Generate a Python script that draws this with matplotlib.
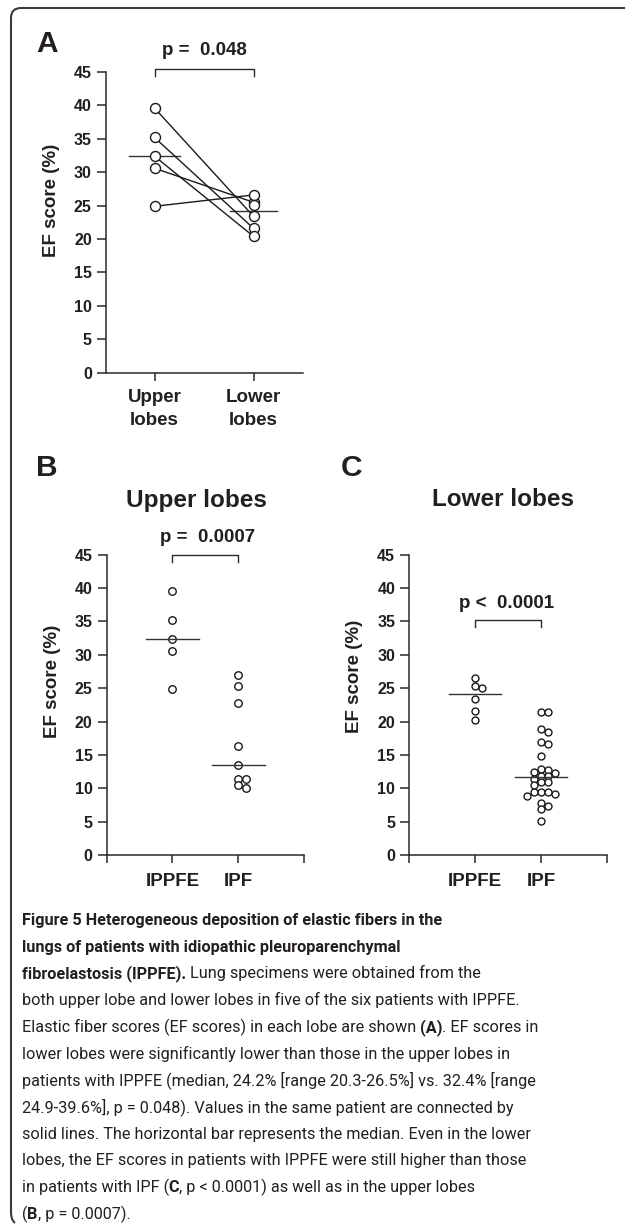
import matplotlib
matplotlib.use("Agg")
import matplotlib.pyplot as plt
from matplotlib import font_manager
from matplotlib.path import Path
from matplotlib.patches import PathPatch
import numpy as np

W, H = 625, 1229
INK = '#231f20'
plt.rcParams['font.family'] = ['Liberation Sans', 'DejaVu Sans']

# ---- data ----
# A: same five patients, upper vs lower lobe (plus one lower-lobe-only value)
upper_a = [39.6, 35.2, 32.4, 30.6, 24.9]
lower_a = [23.4, 21.6, 20.4, 25.5, 26.6]
lower_a_extra = [25.1]
cats_a = ["Upper\nlobes", "Lower\nlobes"]

# B: upper lobes, C: lower lobes
groups = ["IPPFE", "IPF"]
upper_ippfe = [39.6, 35.2, 32.4, 30.6, 24.9]
upper_ipf = [27.0, 25.3, 22.8, 16.4, 13.5, 11.4, 11.4, 10.5, 10.1]
lower_ippfe = [26.6, 25.4, 25.0, 23.4, 21.6, 20.3]
lower_ipf = [21.5, 21.5, 18.9, 18.4, 17.0, 16.7, 14.8, 12.9, 12.7, 12.5, 12.3,
             11.9, 11.9, 11.4, 10.9, 10.9, 10.5, 9.4, 9.4, 9.4, 9.1, 8.9,
             7.8, 7.4, 6.9, 5.2]
yticks = list(range(0, 46, 5))

p_a, p_b, p_c = "p =  0.048", "p =  0.0007", "p <  0.0001"

caption = [
    [("Figure 5 Heterogeneous deposition of elastic fibers in the", True)],
    [("lungs of patients with idiopathic pleuroparenchymal", True)],
    [("fibroelastosis (IPPFE).", True), (" Lung specimens were obtained from the", False)],
    [("both upper lobe and lower lobes in five of the six patients with IPPFE.", False)],
    [("Elastic fiber scores (EF scores) in each lobe are shown ", False), ("(A)", True),
     (". EF scores in", False)],
    [("lower lobes were significantly lower than those in the upper lobes in", False)],
    [("patients with IPPFE (median, 24.2% [range 20.3-26.5%] vs. 32.4% [range", False)],
    [("24.9-39.6%], p = 0.048). Values in the same patient are connected by", False)],
    [("solid lines. The horizontal bar represents the median. Even in the lower", False)],
    [("lobes, the EF scores in patients with IPPFE were still higher than those", False)],
    [("in patients with IPF (", False), ("C", True), (", p < 0.0001) as well as in the upper lobes", False)],
    [("(", False), ("B", True), (", p = 0.0007).", False)],
]

fig = plt.figure(figsize=(W / 100, H / 100), dpi=100)
fig.patch.set_facecolor('white')


def box(x0, y0, x1, y1):
    # pixel box (top-left origin) -> figure fraction rect
    return [x0 / W, 1 - y1 / H, (x1 - x0) / W, (y1 - y0) / H]


def style(ax, xlim, xticks, xlabels, xpad):
    ax.set_xlim(*xlim)
    ax.set_ylim(0, 45)
    for s in ['top', 'right']:
        ax.spines[s].set_visible(False)
    for s in ['left', 'bottom']:
        ax.spines[s].set_linewidth(1.1)
        ax.spines[s].set_color('#2a2a2a')
    ax.set_yticks(yticks)
    ax.set_yticklabels([str(t) for t in yticks], fontsize=11.5, fontweight='bold', color=INK)
    ax.set_xticks(xticks)
    ax.set_xticklabels(xlabels, fontsize=13.5, fontweight='bold', color=INK, linespacing=1.45)
    ax.tick_params(axis='y', length=6.7, width=1.1, pad=3.5, color='#2a2a2a')
    ax.tick_params(axis='x', length=5.5, width=1.1, pad=xpad, color='#2a2a2a')
    ax.set_ylabel("EF score (%)", fontsize=13.5, fontweight='bold', color=INK)


def swarm_x(ax, center, vals, ms, tight=0.75):
    d = ms * fig.dpi / 72
    placed, xs = [], []
    cands = [0]
    for i in range(1, 10):
        cands += [i, -i]
    for v in vals:
        cx, py = ax.transData.transform((center, v))
        for c in cands:
            qx = cx + c * d
            if all(np.hypot(qx - a, py - b) >= tight * d for a, b in placed):
                break
        placed.append((qx, py))
        xs.append(ax.transData.inverted().transform((qx, py))[0])
    return xs


def bracket(ax, x0, x1, ytop, ybot):
    ax.plot([x0, x0, x1, x1], [ybot, ytop, ytop, ybot], color='#2a2a2a', lw=1.0,
            clip_on=False)


circ = dict(marker='o', mfc='white', mec='#1a1a1a', ls='none', clip_on=False, zorder=4)

# ---- panel A ----
axA = fig.add_axes(box(106, 72, 303, 372.7))
style(axA, (-0.49, 1.5), [0, 1], cats_a, 6.5)
axA.yaxis.set_label_coords(-0.233, 0.574)
for u, l in zip(upper_a, lower_a):
    axA.plot([0, 1], [u, l], color='#1a1a1a', lw=1.0, zorder=3, clip_on=False)
axA.plot([0] * len(upper_a), upper_a, ms=7.2, mew=1.0, **circ)
all_lower = lower_a + lower_a_extra
axA.plot([1] * len(all_lower), all_lower, ms=7.2, mew=1.0, **circ)
for x, vals, hw in [(0, upper_a, 0.26), (1, all_lower, 0.24)]:
    m = np.median(vals)
    axA.plot([x - hw, x + hw], [m, m], color='#333333', lw=1.0, zorder=2)
bracket(axA, 0, 1, 45.5, 44.4)
axA.text(0.5, 47.5, p_a, ha='center', va='baseline', fontsize=13.5, fontweight='bold',
         color=INK)

# ---- panels B and C ----
for pos, ippfe, ipf, ms, ptxt, pxy, br, lab in [
        (box(106.7, 554.6, 304, 855.3), upper_ippfe, upper_ipf, 5.4, p_b, (0.54, 46.9),
         (45.0, 43.9), (-0.232, 0.58)),
        (box(409.3, 554.6, 606.7, 855.3), lower_ippfe, lower_ipf, 5.0, p_c, (0.48, 37.0),
         (35.2, 34.1), (-0.233, 0.594))]:
    ax = fig.add_axes(pos)
    style(ax, (-1, 2), [-1, 0, 1, 2], [""] + groups + [""], 7)
    ax.yaxis.set_label_coords(*lab)
    for x, vals in [(0, ippfe), (1, ipf)]:
        xs = swarm_x(ax, x, vals, ms)
        ax.plot(xs, vals, ms=ms, mew=1.0, **circ)
        m = np.median(vals)
        ax.plot([x - 0.4, x + 0.4], [m, m], color='#333333', lw=1.0, zorder=5)
    bracket(ax, 0, 1, br[0], br[1])
    ax.text(pxy[0], pxy[1], ptxt, ha='center', va='baseline', fontsize=13.5,
            fontweight='bold', color=INK)

# ---- panel letters & titles ----
for s, x, y in [("A", 47, 51.7), ("B", 47, 476), ("C", 352, 476)]:
    fig.text(x / W, 1 - y / H, s, ha='center', va='baseline', fontsize=21.5,
             fontweight='bold', color=INK)
for s, x in [("Upper lobes", 196.5), ("Lower lobes", 503)]:
    fig.text(x / W, 1 - 506.5 / H, s, ha='center', va='baseline', fontsize=17.5,
             fontweight='bold', color=INK)

# ---- frame ----
verts = [(W + 2, 8), (21, 8), (11, 8), (11, 18), (11, 1212), (11, 1220), (15, 1223)]
codes = [Path.MOVETO, Path.LINETO, Path.CURVE3, Path.CURVE3, Path.LINETO,
         Path.CURVE3, Path.CURVE3]
verts = [(x / W, 1 - y / H) for x, y in verts]
fig.add_artist(PathPatch(Path(verts, codes), transform=fig.transFigure, fc='none',
                         ec='#3a3a3a', lw=1.5))

# ---- caption ----
renderer = fig.canvas.get_renderer()
cap_font = None
for name in ['Liberation Sans Narrow', 'Roboto', 'Lato']:
    try:
        font_manager.findfont(name, fallback_to_default=False)
        cap_font = [name, 'DejaVu Sans']
        break
    except ValueError:
        pass
if cap_font is None:
    cap_font = ['DejaVu Sans']


def adv(s, size, bold):
    # advance width in px, spaces included
    def w(t):
        tt = fig.text(0, 0, t, fontsize=size, fontweight='bold' if bold else 'normal',
                      family=cap_font)
        bb = tt.get_window_extent(renderer)
        tt.remove()
        return bb.width
    return w("|" + s + "|") - w("||")


size = 13.5
widest = adv(caption[8][0][0], size, False)
size = min(size * 510 / widest, 14.0)
y = 925
for line in caption:
    x = 21.7
    for s, bold in line:
        fig.text(x / W, 1 - y / H, s, fontsize=size, fontweight='bold' if bold else 'normal',
                 family=cap_font, ha='left', va='baseline', color=INK)
        x += adv(s, size, bold)
    y += 26.7

fig.savefig("out.png", dpi=100, facecolor='white')
